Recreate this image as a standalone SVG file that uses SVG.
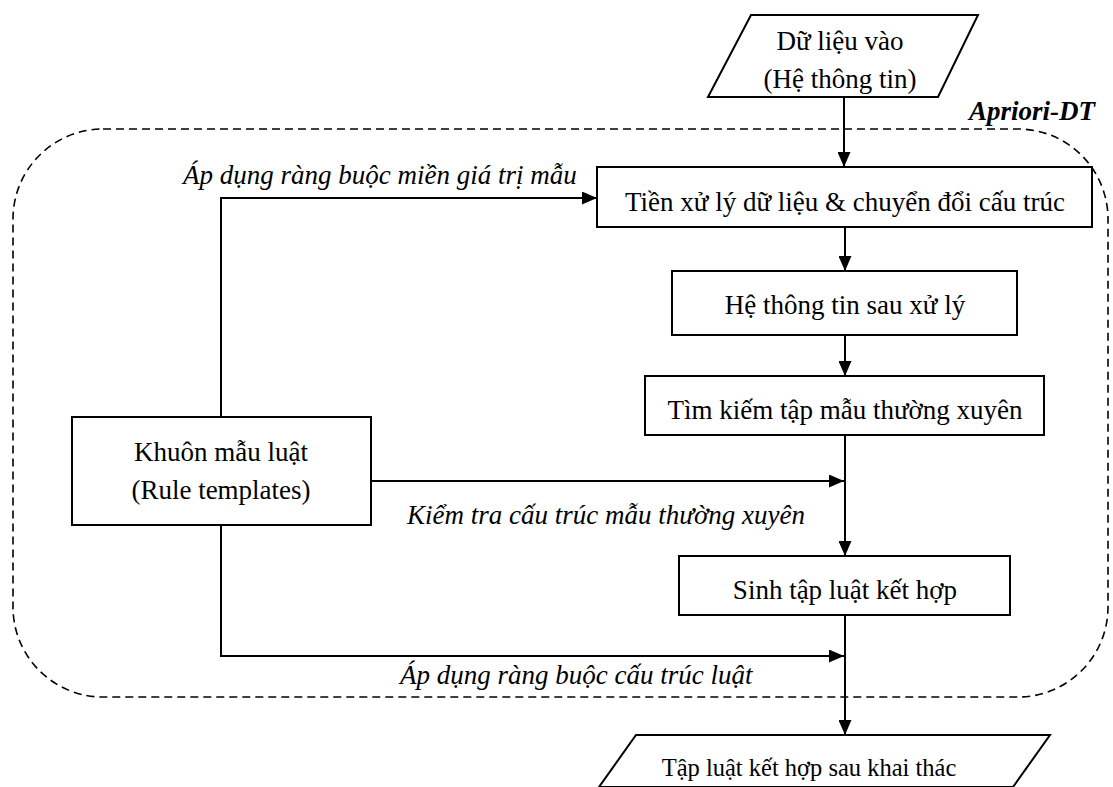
<svg xmlns="http://www.w3.org/2000/svg" width="1113" height="787" viewBox="0 0 1113 787">
<style>
.box{fill:#fff;stroke:#000;stroke-width:2}
.t{font-family:'Liberation Serif','Times New Roman',serif;font-size:27px;fill:#000;text-anchor:middle}
.lbl{font-family:'Liberation Serif','Times New Roman',serif;font-size:27px;font-style:italic;fill:#000}
.ln{fill:none;stroke:#000;stroke-width:2}
.dash{fill:none;stroke:#000;stroke-width:1.6;stroke-dasharray:8 5}
</style>
<defs>
<marker id="ah" markerWidth="15" markerHeight="13" refX="15" refY="6.5" orient="auto" markerUnits="userSpaceOnUse">
<path d="M0,0 L15,6.5 L0,13 Z" fill="#000"/>
</marker>
</defs>
<rect width="1113" height="787" fill="#fff"/>
<g id="apriori-dt">
<rect class="dash" x="13" y="129" width="1095" height="568" rx="90" ry="90"/>
<text x="1095" y="120" style="font-family:'Liberation Serif','Times New Roman',serif;font-size:27px;font-weight:bold;font-style:italic;text-anchor:end">Apriori-DT</text>
</g>
<g id="connectors">
<line class="ln" x1="844" y1="97" x2="844" y2="167" marker-end="url(#ah)"/>
<line class="ln" x1="845" y1="227" x2="845" y2="271" marker-end="url(#ah)"/>
<line class="ln" x1="845" y1="335" x2="845" y2="376" marker-end="url(#ah)"/>
<line class="ln" x1="845" y1="435" x2="845" y2="556" marker-end="url(#ah)"/>
<line class="ln" x1="845" y1="615" x2="845" y2="735" marker-end="url(#ah)"/>
<polyline class="ln" points="221,417 221,198 597,198" marker-end="url(#ah)"/>
<line class="ln" x1="371" y1="481" x2="844" y2="481" marker-end="url(#ah)"/>
<polyline class="ln" points="221,525 221,656 844,656" marker-end="url(#ah)"/>
<text class="lbl" x="183" y="184">Áp dụng ràng buộc miền giá trị mẫu</text>
<text class="lbl" x="407" y="524">Kiểm tra cấu trúc mẫu thường xuyên</text>
<text class="lbl" x="400" y="684">Áp dụng ràng buộc cấu trúc luật</text>
</g>
<g id="input">
<polygon class="box" points="751,15 978,15 938,97 708,97"/>
<text class="t" x="840" y="50">Dữ liệu vào</text>
<text class="t" x="840" y="88">(Hệ thông tin)</text>
</g>
<g id="preprocess">
<rect class="box" x="597" y="167" width="495" height="60"/>
<text class="t" x="845" y="211">Tiền xử lý dữ liệu &amp; chuyển đổi cấu trúc</text>
</g>
<g id="processed">
<rect class="box" x="672" y="271" width="345" height="64"/>
<text class="t" x="845" y="314">Hệ thông tin sau xử lý</text>
</g>
<g id="frequent">
<rect class="box" x="645" y="376" width="399" height="59"/>
<text class="t" x="845" y="419">Tìm kiếm tập mẫu thường xuyên</text>
</g>
<g id="templates">
<rect class="box" x="72" y="417" width="299" height="108"/>
<text class="t" x="221" y="461">Khuôn mẫu luật</text>
<text class="t" x="221" y="499">(Rule templates)</text>
</g>
<g id="generate">
<rect class="box" x="679" y="556" width="331" height="59"/>
<text class="t" x="845" y="599">Sinh tập luật kết hợp</text>
</g>
<g id="output">
<polygon class="box" points="636,735 1050,735 1013,787 599,787"/>
<text class="t" x="809" y="776" style="font-size:24.5px">Tập luật kết hợp sau khai thác</text>
</g>
</svg>
